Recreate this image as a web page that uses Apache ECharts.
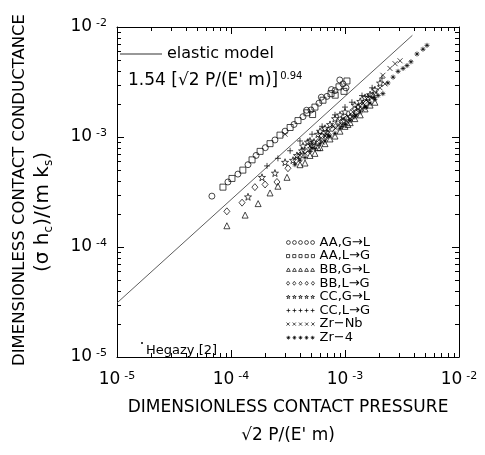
<!DOCTYPE html>
<html>
<head>
<meta charset="utf-8">
<script src="https://cdn.jsdelivr.net/npm/echarts@6/dist/echarts.min.js"></script>
<style>
  html, body { margin: 0; padding: 0; background: #fff; }
  #main { width: 485px; height: 455px; }
</style>
</head>
<body>
<div id="main"></div>
<script>
// values: [P*, h*] pairs
var aaGL = [[6.8e-5,2.9e-4],[9.4e-5,3.9e-4],[1.15e-4,4.6e-4],[1.41e-4,5.6e-4],[1.66e-4,6.8e-4],[2.0e-4,8.0e-4],[2.43e-4,9.4e-4],[2.98e-4,1.13e-3],[3.57e-4,1.3e-3],[4.28e-4,1.53e-3],[4.6e-4,1.75e-3],[5.03e-4,1.76e-3],[5.91e-4,2.03e-3],[6.2e-4,2.3e-3],[6.95e-4,2.34e-3],[7.6e-4,2.7e-3],[8.17e-4,2.64e-3],[9.0e-4,3.3e-3],[9.6e-4,3.04e-3],[1.02e-3,2.8e-3]];
var aaLG = [[8.5e-5,3.5e-4],[1.02e-4,4.2e-4],[1.27e-4,5.0e-4],[1.53e-4,6.2e-4],[1.8e-4,7.4e-4],[2.2e-4,8.7e-4],[2.69e-4,1.04e-3],[3.3e-4,1.22e-3],[3.87e-4,1.41e-3],[4.64e-4,1.66e-3],[5.2e-4,1.6e-3],[5.45e-4,1.87e-3],[6.41e-4,2.16e-3],[7.54e-4,2.48e-3],[8.2e-4,2.4e-3],[8.86e-4,2.86e-3],[9.8e-4,2.6e-3],[1.04e-3,3.23e-3]];
var bbGL = [[9.2e-5,1.56e-4],[1.33e-4,1.95e-4],[1.73e-4,2.48e-4],[2.2e-4,3.1e-4],[2.58e-4,3.57e-4],[3.1e-4,4.3e-4],[4.03e-4,5.6e-4],[4.46e-4,5.8e-4],[4.93e-4,6.8e-4],[5.45e-4,7.1e-4],[5.8e-4,8.0e-4],[6.04e-4,8.0e-4],[6.68e-4,8.7e-4],[7.39e-4,9.6e-4],[8.17e-4,1.02e-3],[9.04e-4,1.13e-3],[1.0e-3,1.25e-3],[1.06e-3,1.3e-3],[1.11e-3,1.35e-3],[1.22e-3,1.47e-3],[1.36e-3,1.59e-3],[1.5e-3,1.8e-3],[1.66e-3,1.95e-3],[1.83e-3,2.07e-3]];
var bbLG = [[9.2e-5,2.11e-4],[1.25e-4,2.53e-4],[1.62e-4,3.5e-4],[1.99e-4,3.7e-4],[2.53e-4,3.9e-4],[3.16e-4,5.2e-4],[3.72e-4,6.15e-4],[4.03e-4,6.8e-4],[4.46e-4,7.5e-4],[5.14e-4,8.3e-4],[5.8e-4,9.0e-4],[6.3e-4,1.02e-3],[6.8e-4,1.02e-3],[7.7e-4,1.2e-3],[8.7e-4,1.35e-3],[9.4e-4,1.38e-3],[1.04e-3,1.47e-3],[1.15e-3,1.69e-3],[1.25e-3,1.66e-3],[1.41e-3,1.95e-3],[1.53e-3,2.03e-3],[1.73e-3,2.38e-3]];
var ccGL = [[1.41e-4,2.86e-4],[1.87e-4,4.3e-4],[2.43e-4,4.7e-4],[2.98e-4,5.9e-4],[3.5e-4,6.15e-4],[3.79e-4,6.8e-4],[4.2e-4,7.5e-4],[4.28e-4,8.3e-4],[4.73e-4,9.0e-4],[4.93e-4,9.2e-4],[5.35e-4,9.0e-4],[5.8e-4,1.06e-3],[6.04e-4,1.13e-3],[6.68e-4,1.2e-3],[6.95e-4,1.11e-3],[7.39e-4,1.3e-3],[8.17e-4,1.47e-3],[9.04e-4,1.59e-3],[9.8e-4,1.41e-3],[1.0e-3,1.69e-3],[1.11e-3,1.53e-3],[1.22e-3,1.95e-3],[1.3e-3,1.87e-3],[1.36e-3,2.11e-3],[1.5e-3,2.29e-3],[1.59e-3,2.29e-3],[1.66e-3,2.43e-3],[1.83e-3,2.69e-3],[2.03e-3,3.1e-3]];
var ccLG = [[2.07e-4,5.46e-4],[2.58e-4,6.4e-4],[3.3e-4,7.5e-4],[4.03e-4,9.2e-4],[5.14e-4,1.06e-3],[6.3e-4,1.25e-3],[8.17e-4,1.59e-3],[1.0e-3,1.87e-3],[1.15e-3,2.07e-3],[1.41e-3,2.38e-3],[1.73e-3,2.8e-3],[2.11e-3,3.43e-3]];
var zrNb = [[2.98e-4,1.06e-3],[4.03e-4,6.8e-4],[4.46e-4,7.1e-4],[4.93e-4,7.7e-4],[4.93e-4,8.3e-4],[5.45e-4,8.7e-4],[6.04e-4,9.6e-4],[6.3e-4,9.0e-4],[6.68e-4,1.02e-3],[7.1e-4,1.13e-3],[7.85e-4,1.25e-3],[8.3e-4,1.2e-3],[8.7e-4,1.3e-3],[9.6e-4,1.47e-3],[1.06e-3,1.53e-3],[1.15e-3,1.53e-3],[1.17e-3,1.69e-3],[1.3e-3,1.8e-3],[1.41e-3,1.8e-3],[1.44e-3,2.03e-3],[1.59e-3,2.11e-3],[1.73e-3,2.29e-3],[1.87e-3,2.53e-3],[2.03e-3,2.8e-3],[2.24e-3,3.04e-3],[2.15e-3,3.64e-3],[2.48e-3,4.2e-3],[2.75e-3,4.64e-3],[3.04e-3,4.93e-3]];
var zr4 = [[3.64e-4,5.6e-4],[4.03e-4,6.15e-4],[4.46e-4,6.5e-4],[4.93e-4,7.4e-4],[5.14e-4,8.0e-4],[5.45e-4,7.85e-4],[6.04e-4,8.7e-4],[6.68e-4,9.2e-4],[7.1e-4,1.02e-3],[7.39e-4,1.02e-3],[8.17e-4,1.08e-3],[9.04e-4,1.2e-3],[9.4e-4,1.25e-3],[1.0e-3,1.3e-3],[1.11e-3,1.41e-3],[1.22e-3,1.53e-3],[1.25e-3,1.59e-3],[1.36e-3,1.69e-3],[1.5e-3,1.87e-3],[1.53e-3,1.87e-3],[1.66e-3,2.03e-3],[1.8e-3,2.29e-3],[1.83e-3,2.2e-3],[1.95e-3,2.38e-3],[2.15e-3,2.48e-3],[2.38e-3,3.1e-3],[2.64e-3,3.5e-3],[2.92e-3,3.95e-3],[3.23e-3,4.2e-3],[3.5e-3,4.46e-3],[3.79e-3,4.83e-3],[4.28e-3,5.68e-3],[4.83e-3,6.28e-3],[5.24e-3,6.81e-3]];

// elastic model line, end points
var elasticX = [1e-5, 3.9e-3];
var elasticY = [3.1e-5, 8.4e-3];

var seriesNames = ['AA,G→L', 'AA,L→G', 'BB,G→L', 'BB,L→G', 'CC,G→L', 'CC,L→G', 'Zr−Nb', 'Zr−4'];
var seriesData = [aaGL, aaLG, bbGL, bbLG, ccGL, ccLG, zrNb, zr4];

var FONT = 'DejaVu Sans';

// marker shapes (10x10 box), also used 5 in a row for the legend
function unit(kind, x) {
  switch (kind) {
    case 'circle': return 'M' + x + ',5a5,5 0 1,0 10,0a5,5 0 1,0 -10,0';
    case 'rect': return 'M' + (x + 1) + ',1h8v8h-8z';
    case 'tri': return 'M' + (x + 5) + ',0l5,9h-10z';
    case 'dia': return 'M' + (x + 5) + ',0l4,5l-4,5l-4,-5z';
    case 'star': return 'M' + (x + 5) + ',0.3l1.18,3.38l3.58,0.08l-2.86,2.16l1.04,3.43l-2.94,-2.05l-2.94,2.05l1.04,-3.43l-2.86,-2.16l3.58,-0.08z';
    case 'plus': return 'M' + (x + 5) + ',0v10M' + x + ',5h10';
    case 'cross': return 'M' + (x + 1) + ',1l8,8M' + (x + 9) + ',1l-8,8';
    case 'ast': return 'M' + (x + 5) + ',0v10M' + x + ',5h10M' + (x + 1.5) + ',1.5l7,7M' + (x + 8.5) + ',1.5l-7,7';
  }
}
function rowIcon(kind) {
  var p = '';
  for (var i = 0; i < 5; i++) p += unit(kind, i * 16);
  return 'path://' + p;
}
var kinds = ['circle', 'rect', 'tri', 'dia', 'star', 'plus', 'cross', 'ast'];
var sizes = [6, 6, 6, [6, 7], 7, 6, 5, 5];

function markStyle() {
  return { color: 'none', borderColor: '#000', borderWidth: 0.9 };
}

var series = seriesData.map(function (d, i) {
  return {
    name: seriesNames[i],
    type: 'scatter',
    data: d,
    symbol: 'path://' + unit(kinds[i], 0),
    symbolSize: sizes[i],
    itemStyle: markStyle(),
    emphasis: { disabled: true },
    z: 3
  };
});
series.push({
  name: 'elastic model',
  type: 'line',
  data: elasticX.map(function (x, i) { return [x, elasticY[i]]; }),
  symbol: 'none',
  color: '#333',
  lineStyle: { color: '#333', width: 0.8 },
  z: 2
});

function powLabel(v) {
  var e = Math.round(Math.log10(v));
  return '{b|10}{e|' + e + '}';
}
var labelRich = {
  b: { fontSize: 17, fontFamily: FONT, color: '#000', lineHeight: 18 },
  e: { fontSize: 11, fontFamily: FONT, color: '#000', verticalAlign: 'top', lineHeight: 18, padding: [0, 0, 0, 4] }
};

function logAxis(pos, main) {
  return {
    type: 'log', logBase: 10, min: 1e-5, max: 1e-2,
    position: pos,
    axisLine: { show: true, onZero: false, lineStyle: { color: '#000', width: 1 } },
    axisTick: { show: false },
    splitLine: { show: false },
    minorTick: { show: false },
    axisLabel: main ? { formatter: powLabel, rich: labelRich, margin: pos === 'bottom' ? 14 : 10 } : { show: false }
  };
}

var xMain = logAxis('bottom', true);
xMain.name = 'DIMENSIONLESS CONTACT PRESSURE\n√2 P/(E\' m)';
xMain.nameLocation = 'middle';
xMain.nameGap = 37;
xMain.nameTextStyle = { fontFamily: FONT, fontSize: 17, color: '#000', lineHeight: 28 };

var main = document.getElementById('main');
var chart = echarts.init(main);

chart.setOption({
  animation: false,
  grid: { left: 117, right: 26, top: 27, bottom: 87, containLabel: false },
  xAxis: [xMain, logAxis('top', false)],
  yAxis: [logAxis('left', true), logAxis('right', false)],
  legend: [{
    orient: 'vertical',
    left: 284, top: 236,
    padding: 0,
    itemWidth: 28, itemHeight: 4,
    itemGap: 0.6,
    selectedMode: false,
    textStyle: { fontFamily: FONT, fontSize: 13, lineHeight: 13, color: '#000' },
    data: seriesNames.map(function (n, i) {
      return { name: n, icon: rowIcon(kinds[i]), itemStyle: markStyle() };
    })
  }, {
    left: 120, top: 46,
    padding: 0,
    itemWidth: 42, itemHeight: 1,
    itemGap: 6,
    selectedMode: false,
    textStyle: { fontFamily: FONT, fontSize: 16, lineHeight: 16, color: '#000' },
    data: [{ name: 'elastic model', icon: 'rect' }]
  }],
  series: series
});

// decade and minor ticks on all four sides, placed with the axis scales
var gx0 = chart.convertToPixel({ xAxisIndex: 0 }, 1e-5);
var gx1 = chart.convertToPixel({ xAxisIndex: 0 }, 1e-2);
var gy0 = chart.convertToPixel({ yAxisIndex: 0 }, 1e-5);
var gy1 = chart.convertToPixel({ yAxisIndex: 0 }, 1e-2);
var gfx = [];
function tick(x1, y1, x2, y2) {
  gfx.push({ type: 'line', silent: true, shape: { x1: x1, y1: y1, x2: x2, y2: y2 }, style: { stroke: '#000', lineWidth: 1 } });
}
[-5, -4, -3, -2].forEach(function (d) {
  for (var k = 1; k <= 9; k++) {
    if (d === -2 && k > 1) break;
    var v = k * Math.pow(10, d);
    var len = k === 1 ? 7 : 4;
    var px = Math.round(chart.convertToPixel({ xAxisIndex: 0 }, v)) + 0.5;
    var py = Math.round(chart.convertToPixel({ yAxisIndex: 0 }, v)) + 0.5;
    tick(px, gy0, px, gy0 - len);
    tick(px, gy1, px, gy1 + len);
    tick(gx0, py, gx0 + len, py);
    tick(gx1, py, gx1 - len, py);
  }
});

function txt(x, y, text, opts) {
  var st = {
    text: text, fill: '#000',
    font: (opts.size || 14) + 'px "' + FONT + '"',
    align: opts.align || 'left', verticalAlign: 'middle',
    textAlign: opts.align || 'left', textVerticalAlign: 'middle'
  };
  if (opts.rich) st.rich = opts.rich;
  return { type: 'text', x: x, y: y, rotation: opts.rot || 0, silent: true, style: st };
}

gfx.push(txt(128, 81, '1.54 [√2 P/(E\' m)]{sup|0.94}', {
  size: 17,
  rich: { sup: { fontSize: 10, fontFamily: FONT, verticalAlign: 'top', lineHeight: 20, padding: [0, 0, 0, 2] } }
}));
gfx.push({ type: 'circle', silent: true, shape: { cx: 142, cy: 343, r: 1 }, style: { fill: '#000' } });
gfx.push(txt(146, 351, 'Hegazy [2]', { size: 13 }));
gfx.push(txt(20, 190, 'DIMENSIONLESS CONTACT CONDUCTANCE', { size: 16.5, align: 'center', rot: Math.PI / 2 }));
gfx.push(txt(43, 212, '(σ h{s|c})/(m k{s|s})', {
  size: 20, align: 'center', rot: Math.PI / 2,
  rich: { s: { fontSize: 12, fontFamily: FONT, verticalAlign: 'bottom', lineHeight: 24 } }
}));

chart.setOption({ graphic: { elements: gfx } });
</script>
</body>
</html>
